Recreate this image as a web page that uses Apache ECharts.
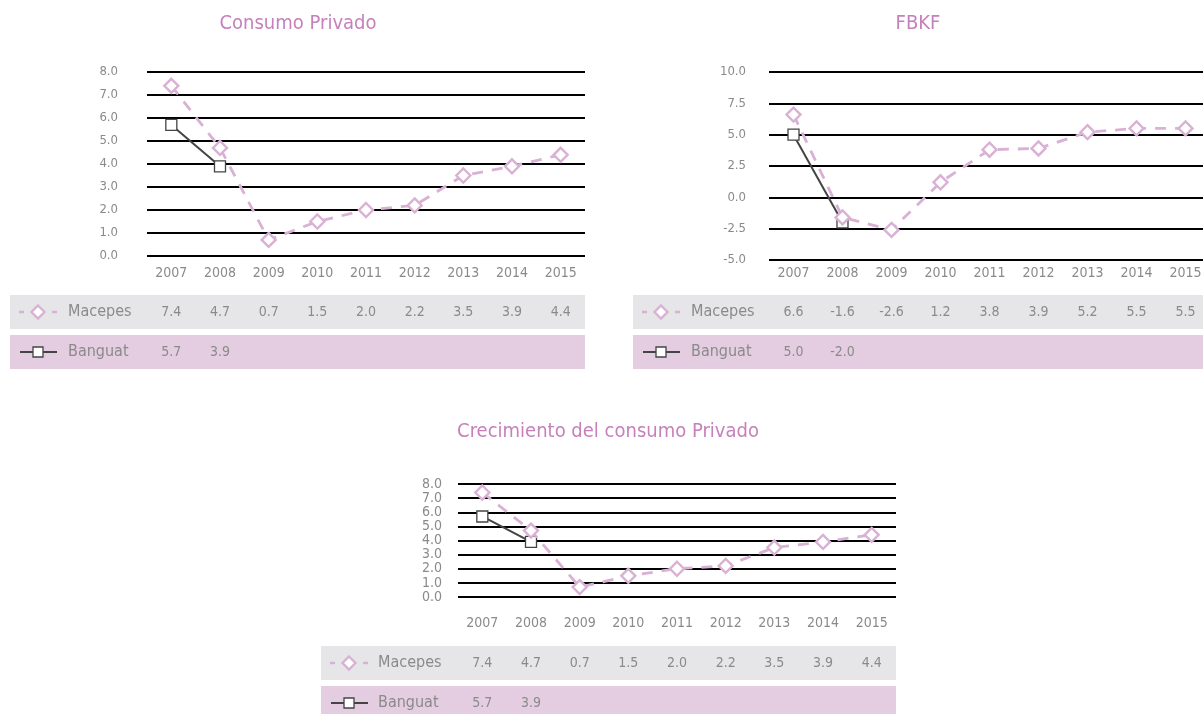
<!DOCTYPE html>
<html>
<head>
<meta charset="utf-8">
<script src="https://cdn.jsdelivr.net/npm/echarts@6/dist/echarts.min.js"></script>
<style>html,body{margin:0;padding:0;background:#fff}#c{width:1203px;height:714px}</style>
</head>
<body>
<div id="c"></div>
<script>
// ---- data ----
const years = ['2007','2008','2009','2010','2011','2012','2013','2014','2015'];
const consumoMacepes = [7.4, 4.7, 0.7, 1.5, 2.0, 2.2, 3.5, 3.9, 4.4];
const consumoBanguat = [5.7, 3.9];
const fbkfMacepes = [6.6, -1.6, -2.6, 1.2, 3.8, 3.9, 5.2, 5.5, 5.5];
const fbkfBanguat = [5.0, -2.0];
const crecMacepes = [7.4, 4.7, 0.7, 1.5, 2.0, 2.2, 3.5, 3.9, 4.4];
const crecBanguat = [5.7, 3.9];
const titles = ['Consumo Privado', 'FBKF', 'Crecimiento del consumo Privado'];
const seriesNames = ['Macepes', 'Banguat'];

// ---- layout / style ----
const FONT = "'Liberation Sans Narrow', 'DejaVu Sans Condensed', sans-serif";
const TXT = '#8a8a8a';
const TITLE_C = '#c680bb';
const PINK = '#d9b1d4';
const DARK = '#444444';
const ROW_GRAY = '#e6e6e8';
const ROW_PINK = '#e4cde1';

const panels = [
  {grid:{left:147, top:72, width:438, height:184}, y:{min:0,max:8,interval:1}, mac:consumoMacepes, ban:consumoBanguat,
   title:{x:298, y:24}, yMargin:29, yFont:13, catMargin:9, rowY:[295,335], rowH:34, rowX:[10,585], iconX:38, nameX:68},
  {grid:{left:769, top:72, width:441, height:188}, y:{min:-5,max:10,interval:2.5}, mac:fbkfMacepes, ban:fbkfBanguat,
   title:{x:918, y:24}, yMargin:23, yFont:13, catMargin:5, rowY:[295,335], rowH:34, rowX:[633,1203], iconX:661, nameX:691},
  {grid:{left:458, top:484, width:438, height:113}, y:{min:0,max:8,interval:1}, mac:crecMacepes, ban:crecBanguat,
   title:{x:608, y:432}, yMargin:16, yFont:14, catMargin:18, rowY:[646,686], rowH:34, rowX:[321,896], iconX:349, nameX:378}
];

const fmt = v => v.toFixed(1);
const grids = [], xAxes = [], yAxes = [], series = [], graphics = [];

panels.forEach((p, i) => {
  grids.push(Object.assign({containLabel:false, outerBoundsMode:'none'}, p.grid));
  const bottom = p.grid.top + p.grid.height;
  // main category axis
  xAxes.push({
    type:'category', gridIndex:i, data:years, boundaryGap:true, position:'bottom',
    axisLine:{show:false, onZero:false}, axisTick:{show:false},
    axisLabel:{color:TXT, fontFamily:FONT, fontSize:14, lineHeight:16, margin:p.catMargin, interval:0}
  });
  // table row axes (values from data arrays)
  const rowsData = [p.mac, p.ban];
  rowsData.forEach((arr, r) => {
    const center = p.rowY[r] + p.rowH/2;
    xAxes.push({
      type:'category', gridIndex:i, data:years, boundaryGap:true, position:'bottom',
      axisLine:{show:false, onZero:false}, axisTick:{show:false}, splitLine:{show:false},
      axisLabel:{color:TXT, fontFamily:FONT, fontSize:14, lineHeight:16, interval:0,
        margin:center - bottom - 8,
        formatter:(v, idx) => (arr[idx] === undefined ? '' : fmt(arr[idx]))}
    });
  });
  yAxes.push({
    type:'value', gridIndex:i, min:p.y.min, max:p.y.max, interval:p.y.interval,
    axisLine:{show:false}, axisTick:{show:false},
    axisLabel:{color:TXT, fontFamily:FONT, fontSize:p.yFont, margin:p.yMargin, formatter:v => fmt(v)},
    splitLine:{lineStyle:{color:'#000', width:2}}
  });
  const xi = i*3;
  series.push({
    name:seriesNames[1], type:'line', xAxisIndex:xi, yAxisIndex:i, data:p.ban,
    symbol:'rect', symbolSize:11, showAllSymbol:true, z:3,
    lineStyle:{color:DARK, width:2},
    itemStyle:{color:'#fff', borderColor:DARK, borderWidth:1.3},
    emphasis:{disabled:true}, animation:false
  });
  series.push({
    name:seriesNames[0], type:'line', xAxisIndex:xi, yAxisIndex:i, data:p.mac,
    symbol:'diamond', symbolSize:14, showAllSymbol:true, z:4,
    lineStyle:{color:PINK, width:2.8, type:[11,9]},
    itemStyle:{color:'#fff', borderColor:PINK, borderWidth:2.4},
    emphasis:{disabled:true}, animation:false
  });
  // title
  graphics.push({type:'text', x:p.title.x, y:p.title.y,
    style:{text:titles[i], fill:TITLE_C, font:'20px ' + FONT, textAlign:'center', textVerticalAlign:'middle'}, z:10});
  // row backgrounds
  graphics.push({type:'rect', shape:{x:p.rowX[0], y:p.rowY[0], width:p.rowX[1]-p.rowX[0], height:p.rowH}, style:{fill:ROW_GRAY}, z:-10});
  graphics.push({type:'rect', shape:{x:p.rowX[0], y:p.rowY[1], width:p.rowX[1]-p.rowX[0], height:p.rowH}, style:{fill:ROW_PINK}, z:-10});
  // legend icons
  const c0 = p.rowY[0] + p.rowH/2, c1 = p.rowY[1] + p.rowH/2;
  graphics.push({type:'line', shape:{x1:p.iconX-19, y1:c0, x2:p.iconX-14, y2:c0}, style:{stroke:PINK, lineWidth:2.5}, z:5});
  graphics.push({type:'line', shape:{x1:p.iconX+14, y1:c0, x2:p.iconX+19, y2:c0}, style:{stroke:PINK, lineWidth:2.5}, z:5});
  graphics.push({type:'polygon', shape:{points:[[p.iconX,c0-6.5],[p.iconX+6.5,c0],[p.iconX,c0+6.5],[p.iconX-6.5,c0]]}, style:{fill:'#fff', stroke:PINK, lineWidth:2.4}, z:6});
  graphics.push({type:'line', shape:{x1:p.iconX-18, y1:c1, x2:p.iconX+19, y2:c1}, style:{stroke:DARK, lineWidth:2.2}, z:5});
  graphics.push({type:'rect', shape:{x:p.iconX-5, y:c1-5, width:10, height:10}, style:{fill:'#fff', stroke:DARK, lineWidth:1.3}, z:6});
  graphics.push({type:'text', x:p.nameX, y:c0, style:{text:seriesNames[0], fill:TXT, font:'16px ' + FONT, textVerticalAlign:'middle'}, z:6});
  graphics.push({type:'text', x:p.nameX, y:c1, style:{text:seriesNames[1], fill:TXT, font:'16px ' + FONT, textVerticalAlign:'middle'}, z:6});
});

const chart = echarts.init(document.getElementById('c'), null, {renderer:'canvas'});
chart.setOption({
  backgroundColor:'#fff',
  animation:false,
  grid:grids, xAxis:xAxes, yAxis:yAxes, series:series,
  graphic:{elements:graphics}
});
</script>
</body>
</html>
